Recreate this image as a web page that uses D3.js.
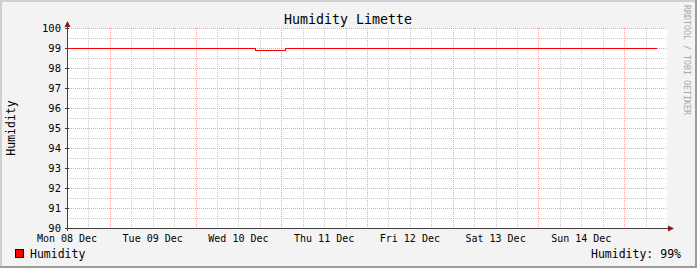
<!DOCTYPE html>
<html>
<head>
<meta charset="utf-8">
<script src="https://cdn.jsdelivr.net/npm/d3@7"></script>
<style>
  html, body { margin: 0; padding: 0; background: #fff; }
  svg { display: block; font-family: "DejaVu Sans Mono", monospace; }
</style>
</head>
<body>
<svg id="chart" width="697" height="268"></svg>
<script>
// humidity samples (UTC), step values
var sampleTimes = ["2025-12-08T00:00", "2025-12-10T04:55", "2025-12-10T13:05", "2025-12-14T21:05"];
var humidity = [99, 98.9, 99, 99];
var yTicks = [90, 91, 92, 93, 94, 95, 96, 97, 98, 99, 100];
var dayLabels = ["Mon 08 Dec", "Tue 09 Dec", "Wed 10 Dec", "Thu 11 Dec", "Fri 12 Dec", "Sat 13 Dec", "Sun 14 Dec"];
var titleText = "Humidity Limette";
var seriesName = "Humidity";
var lastText = "Humidity: 99%";

(function() {
    "use strict";

    var svg = d3.select("#chart");
    var W = 697, H = 268;
    var margin = {left: 67, top: 28, width: 600, height: 200};

    var parse = d3.utcParse("%Y-%m-%dT%H:%M");
    var data = sampleTimes.map(function(t, i) {
        return {date: parse(t), value: humidity[i]};
    });

    var start = parse("2025-12-08T00:00");
    var end = d3.utcDay.offset(start, 7);

    var x = d3.scaleUtc().domain([start, end]).range([margin.left, margin.left + margin.width]);
    var y = d3.scaleLinear().domain([90, 100]).range([margin.top + margin.height, margin.top]);

    // canvas background with 3d border
    svg.append("rect").attr("width", W).attr("height", H).attr("fill", "#f3f3f3");
    svg.append("path").attr("d", "M1,267 V1 H696").attr("fill", "none").attr("stroke", "#cfcfcf").attr("stroke-width", 2);
    svg.append("path").attr("d", "M0,267 H696 V0").attr("fill", "none").attr("stroke", "#9c9c9c").attr("stroke-width", 2);

    // plot background
    svg.append("rect")
        .attr("x", margin.left).attr("y", margin.top)
        .attr("width", margin.width).attr("height", margin.height)
        .attr("fill", "#fff");

    var grid = svg.append("g").attr("shape-rendering", "crispEdges");

    // horizontal grid: minor every 0.5, major every 1
    d3.range(90.5, 100, 1).forEach(function(v) {
        grid.append("line")
            .attr("x1", margin.left).attr("x2", margin.left + margin.width)
            .attr("y1", Math.round(y(v)) + 0.5).attr("y2", Math.round(y(v)) + 0.5)
            .attr("stroke", "#c8c8c8").attr("stroke-dasharray", "1,1");
    });

    // vertical grid: minor every 6h, major at noon
    var sixHours = d3.utcHour.every(6).range(start, end);
    sixHours.forEach(function(t) {
        if (+t === +start) { return; }
        var noon = t.getUTCHours() === 12;
        grid.append("line")
            .attr("x1", Math.round(x(t)) + 0.5).attr("x2", Math.round(x(t)) + 0.5)
            .attr("y1", margin.top).attr("y2", margin.top + margin.height)
            .attr("stroke", noon ? "#f0a0a0" : "#c8c8c8")
            .attr("stroke-dasharray", "1,1");
    });

    yTicks.forEach(function(v) {
        if (v === 90) { return; }
        grid.append("line")
            .attr("x1", margin.left).attr("x2", margin.left + margin.width)
            .attr("y1", Math.round(y(v)) + 0.5).attr("y2", Math.round(y(v)) + 0.5)
            .attr("stroke", "#f0a0a0").attr("stroke-dasharray", "1,1");
    });

    // y tick labels
    svg.append("g").selectAll("text")
        .data(yTicks)
        .enter().append("text")
        .attr("x", 61)
        .attr("y", function(d) { return y(d); })
        .attr("dy", "0.35em")
        .attr("text-anchor", "end")
        .attr("font-size", "10.5px")
        .attr("fill", "#000")
        .text(function(d) { return d; });

    // small ticks on y axis
    yTicks.forEach(function(v) {
        grid.append("line")
            .attr("x1", margin.left - 2).attr("x2", margin.left + 2)
            .attr("y1", Math.round(y(v)) + 0.5).attr("y2", Math.round(y(v)) + 0.5)
            .attr("stroke", "#404040");
    });

    // x labels at midnight
    var days = d3.utcDay.range(start, end);
    svg.append("g").selectAll("text")
        .data(days)
        .enter().append("text")
        .attr("x", function(d) { return x(d); })
        .attr("y", 242)
        .attr("text-anchor", "middle")
        .attr("font-size", "10px")
        .attr("fill", "#000")
        .text(function(d, i) { return dayLabels[i]; });

    // series line
    var line = d3.line()
        .curve(d3.curveStepAfter)
        .x(function(d) { return x(d.date); })
        .y(function(d) { return Math.round(y(d.value)) + 0.5; });

    svg.append("path")
        .datum(data)
        .attr("fill", "none")
        .attr("stroke", "#ff0000")
        .attr("stroke-width", 1)
        .attr("shape-rendering", "crispEdges")
        .attr("d", line);

    // axes with arrows
    var x0 = margin.left + 0.5, yb = margin.top + margin.height + 0.5;
    svg.append("line").attr("x1", x0).attr("x2", x0).attr("y1", yb + 2).attr("y2", 24)
        .attr("stroke", "#404040").attr("shape-rendering", "crispEdges");
    svg.append("line").attr("x1", x0 - 2).attr("x2", 670).attr("y1", yb).attr("y2", yb)
        .attr("stroke", "#404040").attr("shape-rendering", "crispEdges");
    svg.append("path").attr("d", "M" + (x0 - 3) + ",27 L" + x0 + ",21 L" + (x0 + 3) + ",27 Z").attr("fill", "#8b1a1a");
    svg.append("path").attr("d", "M668," + (yb - 3) + " L674," + yb + " L668," + (yb + 3) + " Z").attr("fill", "#8b1a1a");

    // title
    svg.append("text")
        .attr("x", 348).attr("y", 24)
        .attr("text-anchor", "middle")
        .attr("font-size", "13.3px")
        .attr("fill", "#000")
        .text(titleText);

    // vertical axis label
    svg.append("text")
        .attr("transform", "translate(15,128) rotate(-90)")
        .attr("text-anchor", "middle")
        .attr("font-size", "11.5px")
        .attr("fill", "#000")
        .text(seriesName);

    // watermark
    svg.append("text")
        .attr("transform", "translate(684,5) rotate(90)")
        .attr("text-anchor", "start")
        .attr("font-size", "8.3px")
        .attr("fill", "#a8a8a8")
        .text("RRDTOOL / TOBI OETIKER");

    // legend
    svg.append("rect")
        .attr("x", 15.5).attr("y", 249.5).attr("width", 8).attr("height", 8)
        .attr("fill", "#ff0000").attr("stroke", "#000");
    svg.append("text")
        .attr("x", 30).attr("y", 258)
        .attr("font-size", "11.5px")
        .attr("fill", "#000")
        .text(seriesName);
    svg.append("text")
        .attr("x", 681).attr("y", 258)
        .attr("text-anchor", "end")
        .attr("font-size", "11.5px")
        .attr("fill", "#000")
        .text(lastText);
}());
</script>
</body>
</html>
